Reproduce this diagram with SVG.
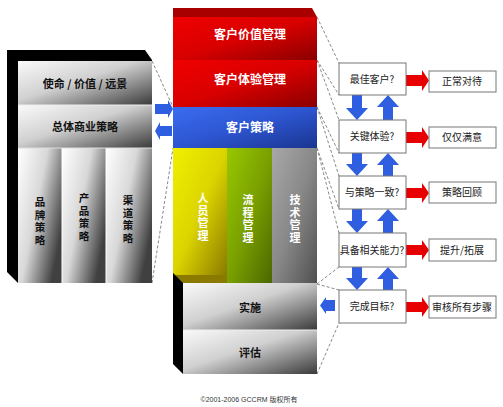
<svg xmlns="http://www.w3.org/2000/svg" width="503" height="407" viewBox="0 0 503 407">
<style>
.lt{font-family:"Noto Sans CJK SC","Liberation Sans",sans-serif;font-size:11px;font-weight:bold;fill:#111;text-anchor:middle}
.wt{font-family:"Noto Sans CJK SC","Liberation Sans",sans-serif;font-size:12px;font-weight:bold;fill:#fff;text-anchor:middle}
.vl{font-family:"Liberation Sans","Noto Sans CJK SC",sans-serif;font-size:10.5px;font-weight:bold;fill:#111;text-anchor:middle}
.vw{font-family:"Liberation Sans","Noto Sans CJK SC",sans-serif;font-size:11px;font-weight:bold;fill:#fff;text-anchor:middle}
.bt{font-family:"Noto Sans CJK SC","Liberation Sans",sans-serif;font-size:10px;fill:#222;text-anchor:middle}
.box{fill:#fff;stroke:#777;stroke-width:1}
.dash{stroke:#888;stroke-width:1;stroke-dasharray:3,2;fill:none}
.blue{fill:#2f5fe0}
.red{fill:#e80000}
</style>
<defs>
<linearGradient id="gBand" x1="0" y1="0" x2="1" y2="1"><stop offset="0" stop-color="#fafafa"/><stop offset="0.45" stop-color="#d0d0d0"/><stop offset="1" stop-color="#3a3a3a"/></linearGradient>
<linearGradient id="gCol" x1="0" y1="0" x2="1" y2="0.6"><stop offset="0" stop-color="#ffffff"/><stop offset="0.5" stop-color="#d8d8d8"/><stop offset="1" stop-color="#404040"/></linearGradient>
<linearGradient id="gRed" x1="0" y1="0" x2="1" y2="1"><stop offset="0" stop-color="#f00000"/><stop offset="0.5" stop-color="#d80000"/><stop offset="1" stop-color="#8a0000"/></linearGradient>
<linearGradient id="gBlue" x1="0" y1="0" x2="1" y2="1"><stop offset="0" stop-color="#3a6cf0"/><stop offset="0.5" stop-color="#2d55d0"/><stop offset="1" stop-color="#1a3590"/></linearGradient>
<linearGradient id="gYel" x1="0" y1="0" x2="1" y2="1"><stop offset="0" stop-color="#f0f000"/><stop offset="0.5" stop-color="#dcd400"/><stop offset="1" stop-color="#8a7a00"/></linearGradient>
<linearGradient id="gGrn" x1="0" y1="0" x2="1" y2="1"><stop offset="0" stop-color="#98c800"/><stop offset="0.5" stop-color="#7aa000"/><stop offset="1" stop-color="#4a6800"/></linearGradient>
<linearGradient id="gGry" x1="0" y1="0" x2="1" y2="1"><stop offset="0" stop-color="#a8a8a8"/><stop offset="0.5" stop-color="#888"/><stop offset="1" stop-color="#505050"/></linearGradient>
</defs>

<g id="connectors">
<line class="dash" x1="152" y1="61" x2="173" y2="107"/>
<line class="dash" x1="152" y1="283" x2="173" y2="148"/>
<line class="dash" x1="317" y1="17" x2="339" y2="63"/>
<line class="dash" x1="317" y1="60" x2="339" y2="95"/>
<line class="dash" x1="317" y1="60" x2="339" y2="120"/>
<line class="dash" x1="317" y1="107" x2="339" y2="153"/>
<line class="dash" x1="317" y1="107" x2="339" y2="176"/>
<line class="dash" x1="317" y1="148" x2="339" y2="209"/>
<line class="dash" x1="317" y1="148" x2="339" y2="233"/>
<line class="dash" x1="317" y1="284" x2="339" y2="267"/>
<line class="dash" x1="317" y1="284" x2="339" y2="290"/>
<line class="dash" x1="317" y1="374" x2="339" y2="323"/>
<polygon class="blue" points="155,104 168,104 168,100 173,109 168,118 168,114 155,114"/>
<polygon class="blue" points="172,126 160,126 160,122 155,131 160,140 160,136 172,136"/>
<g id="vArrows">
<polygon class="blue" points="352,95 362,95 362,108 368,108 357,120 346,108 352,108"/>
<polygon class="blue" points="383,120 393,120 393,107 399,107 388,95 377,107 383,107"/>
<polygon class="blue" points="352,153 362,153 362,164 368,164 357,176 346,164 352,164"/>
<polygon class="blue" points="383,176 393,176 393,165 399,165 388,153 377,165 383,165"/>
<polygon class="blue" points="352,209 362,209 362,221 368,221 357,233 346,221 352,221"/>
<polygon class="blue" points="383,233 393,233 393,221 399,221 388,209 377,221 383,221"/>
<polygon class="blue" points="352,267 362,267 362,278 368,278 357,290 346,278 352,278"/>
<polygon class="blue" points="383,290 393,290 393,279 399,279 388,267 377,279 383,279"/>
</g>
<polygon class="blue" points="335,300 326,300 326,297 320,305.5 326,314 326,311 335,311"/>
<g id="rArrows">
<polygon class="red" points="406,75 422,75 422,70 429,80.5 422,91 422,86 406,86"/>
<polygon class="red" points="406,132 422,132 422,127 429,137.5 422,148 422,143 406,143"/>
<polygon class="red" points="406,188 422,188 422,183 429,193 422,203 422,198 406,198"/>
<polygon class="red" points="406,245 422,245 422,240 429,250 422,260 422,255 406,255"/>
<polygon class="red" points="406,302 422,302 422,297 429,307 422,317 422,312 406,312"/>
</g>
</g>

<g id="leftBlock">
<polygon points="7,50 145,50 152,60 152,283 18,283 7,272" fill="#000"/>
<g id="mission"><rect x="18" y="61" width="134" height="44" fill="url(#gBand)"/><text class="lt" x="85" y="88">使命 / 价值 / 远景</text></g>
<g id="bizStrategy"><rect x="18" y="105" width="134" height="43" fill="url(#gBand)"/><text class="lt" x="85" y="131">总体商业策略</text></g>
<g id="brand"><rect x="18" y="148" width="44" height="135" fill="url(#gCol)"/>
<text class="vl" x="40" y="206">品</text><text class="vl" x="40" y="218.5">牌</text><text class="vl" x="40" y="231">策</text><text class="vl" x="40" y="243.5">略</text></g>
<g id="product"><rect x="62" y="148" width="44" height="135" fill="url(#gCol)"/>
<text class="vl" x="84" y="202">产</text><text class="vl" x="84" y="214.5">品</text><text class="vl" x="84" y="227">策</text><text class="vl" x="84" y="239.5">略</text></g>
<g id="channel"><rect x="106" y="148" width="46" height="135" fill="url(#gCol)"/>
<text class="vl" x="128" y="204">渠</text><text class="vl" x="128" y="216.5">道</text><text class="vl" x="128" y="229">策</text><text class="vl" x="128" y="241.5">略</text></g>
<line x1="62" y1="148" x2="62" y2="283" stroke="#fff"/><line x1="106" y1="148" x2="106" y2="283" stroke="#fff"/>
<line x1="18" y1="148" x2="152" y2="148" stroke="#ddd"/><line x1="18" y1="105" x2="152" y2="105" stroke="#eee"/>
</g>

<g id="centerBlock">
<polygon points="173,8 312,8 317,17 173,17" fill="#a80000"/>
<polygon points="173,273 183,283 183,374 173,364" fill="#000"/>
<g id="valueMgmt"><rect x="173" y="17" width="144" height="43" fill="url(#gRed)"/><text class="wt" x="250" y="39">客户价值管理</text></g>
<g id="expMgmt"><rect x="173" y="60" width="144" height="47" fill="url(#gRed)"/><text class="wt" x="250" y="84">客户体验管理</text></g>
<g id="custStrategy"><rect x="173" y="107" width="144" height="41" fill="url(#gBlue)"/><text class="wt" x="250" y="132">客户策略</text></g>
<g id="people"><rect x="173" y="148" width="54" height="127" fill="url(#gYel)"/>
<text class="vw" x="203" y="202">人</text><text class="vw" x="203" y="214.5">员</text><text class="vw" x="203" y="227">管</text><text class="vw" x="203" y="239.5">理</text></g>
<g id="process"><rect x="227" y="148" width="45" height="135" fill="url(#gGrn)"/>
<text class="vw" x="248" y="204">流</text><text class="vw" x="248" y="216.5">程</text><text class="vw" x="248" y="229">管</text><text class="vw" x="248" y="241.5">理</text></g>
<g id="tech"><rect x="272" y="148" width="45" height="135" fill="url(#gGry)"/>
<text class="vw" x="295" y="204">技</text><text class="vw" x="295" y="216.5">术</text><text class="vw" x="295" y="229">管</text><text class="vw" x="295" y="241.5">理</text></g>
<polygon points="173,273 183,283 227,283 227,275 173,275" fill="#8a7a00"/>
<polygon points="173,273 183,283 173,283" fill="#000"/>
<g id="implement"><rect x="183" y="283" width="134" height="47" fill="url(#gBand)"/><text class="lt" x="250" y="312">实施</text></g>
<g id="evaluate"><rect x="183" y="330" width="134" height="44" fill="url(#gBand)"/><text class="lt" x="250" y="357">评估</text></g>
<line x1="183" y1="330" x2="317" y2="330" stroke="#eee"/>
</g>

<g id="q1"><rect class="box" x="339" y="63" width="67" height="32"/><text class="bt" x="372" y="83">最佳客户?</text></g>
<g id="q2"><rect class="box" x="339" y="120" width="67" height="33"/><text class="bt" x="372" y="140">关键体验?</text></g>
<g id="q3"><rect class="box" x="339" y="176" width="67" height="33"/><text class="bt" x="372" y="196">与策略一致?</text></g>
<g id="q4"><rect class="box" x="339" y="233" width="67" height="34"/><text class="bt" x="372" y="254">具备相关能力?</text></g>
<g id="q5"><rect class="box" x="339" y="290" width="67" height="33"/><text class="bt" x="372" y="310">完成目标?</text></g>

<g id="r1"><rect class="box" x="429" y="71" width="67" height="21"/><text class="bt" x="462" y="85">正常对待</text></g>
<g id="r2"><rect class="box" x="429" y="127" width="67" height="21"/><text class="bt" x="462" y="141">仅仅满意</text></g>
<g id="r3"><rect class="box" x="429" y="182" width="67" height="21"/><text class="bt" x="462" y="196">策略回顾</text></g>
<g id="r4"><rect class="box" x="429" y="239" width="67" height="22"/><text class="bt" x="462" y="254">提升/拓展</text></g>
<g id="r5"><rect class="box" x="429" y="296" width="67" height="22"/><text class="bt" x="462" y="311">审核所有步骤</text></g>

<text x="249" y="402" style="font-family:'Liberation Sans','Noto Sans CJK SC',sans-serif;font-size:7px;fill:#333;text-anchor:middle">©2001-2006 GCCRM 版权所有</text>
</svg>
